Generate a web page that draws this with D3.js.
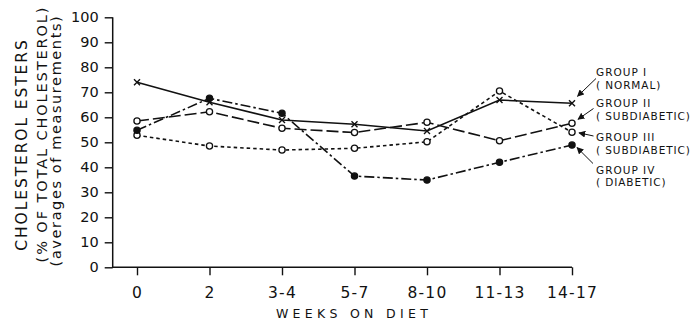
<!DOCTYPE html>
<html>
<head>
<meta charset="utf-8">
<script src="https://cdn.jsdelivr.net/npm/d3@7/dist/d3.min.js"></script>
<style>
  html, body { margin: 0; padding: 0; background: #fff; }
  svg { display: block; }
  text { font-family: "DejaVu Sans", sans-serif; fill: #111; }
</style>
</head>
<body>
<svg id="chart" width="692" height="323"></svg>
<script>
// Weeks on diet (category labels on the x axis)
const weeks = ["0", "2", "3-4", "5-7", "8-10", "11-13", "14-17"];
const yTicks = [0, 10, 20, 30, 40, 50, 60, 70, 80, 90, 100];

// Cholesterol esters, % of total cholesterol (averages of measurements)
const group1 = [74, 66, 58.9, 57.2, 54.5, 66.9, 65.6];   // normal
const group2 = [58.5, 62.2, 55.6, 53.9, 58, 50.6, 57.6]; // subdiabetic
const group3 = [52.8, 48.5, 46.9, 47.6, 50.2, 70.5, 54]; // subdiabetic
const group4 = [54.8, 67.6, 61.6, 36.5, 34.9, 42, 48.9];  // diabetic

const groupNames = ["GROUP I", "GROUP II", "GROUP III", "GROUP IV"];
const groupNotes = ["( NORMAL)", "( SUBDIABETIC)", "( SUBDIABETIC)", "( DIABETIC)"];

const ink = "#111";
const svg = d3.select("#chart");

const x = d3.scalePoint().domain(weeks).range([137, 572]);
const y = d3.scaleLinear().domain([0, 100]).range([267.3, 17.3]);
const axisX = 112.7;

// y axis
const gy = svg.append("g").attr("transform", `translate(${axisX},0)`)
  .call(d3.axisLeft(y).tickValues(yTicks).tickSize(8).tickSizeOuter(0).tickPadding(6));
gy.select(".domain").remove();
gy.selectAll(".tick line").attr("stroke", ink).attr("stroke-width", 1.4);
gy.selectAll(".tick text").attr("font-size", 14.5).attr("fill", ink)
  .style("font-family", "DejaVu Sans, sans-serif");
svg.append("line").attr("x1", axisX).attr("x2", axisX)
  .attr("y1", y(100)).attr("y2", y(0) + 0.7)
  .attr("stroke", ink).attr("stroke-width", 1.5);

// x axis
const gx = svg.append("g").attr("transform", `translate(0,${y(0)})`)
  .call(d3.axisBottom(x).tickSize(8).tickSizeOuter(0).tickPadding(11.5));
gx.select(".domain").remove();
gx.selectAll(".tick line").attr("stroke", ink).attr("stroke-width", 1.4);
gx.selectAll(".tick text").attr("font-size", 15.5).attr("letter-spacing", 1.2)
  .attr("fill", ink).style("font-family", "DejaVu Sans, sans-serif");
svg.append("line").attr("x1", axisX).attr("x2", x(weeks[weeks.length - 1]))
  .attr("y1", y(0)).attr("y2", y(0))
  .attr("stroke", ink).attr("stroke-width", 1.5);

// axis titles
svg.append("text").attr("x", 354).attr("y", 317.5).attr("text-anchor", "middle")
  .attr("font-size", 12.5).attr("letter-spacing", 4.3).text("WEEKS ON DIET");

const yTitles = [
  { t: "CHOLESTEROL ESTERS", bx: 26.7, cy: 144.5, fs: 15.5, ls: 1.9 },
  { t: "(% OF TOTAL CHOLESTEROL)", bx: 46.5, cy: 134, fs: 14.5, ls: 1.9 },
  { t: "(averages of measurements)", bx: 60.5, cy: 140.5, fs: 14.5, ls: 1.6 }
];
svg.selectAll("text.ytitle").data(yTitles).join("text")
  .attr("class", "ytitle")
  .attr("transform", d => `translate(${d.bx},${d.cy}) rotate(-90)`)
  .attr("text-anchor", "middle")
  .attr("font-size", d => d.fs)
  .attr("letter-spacing", d => d.ls)
  .text(d => d.t);

// series
const series = [
  { values: group1, dash: null, marker: "x" },
  { values: group2, dash: "12,4", marker: "open" },
  { values: group3, dash: "3.5,3", marker: "open" },
  { values: group4, dash: "10,3,2.5,3", marker: "filled" }
];

const line = d3.line().x((d, i) => x(weeks[i])).y(d => y(d));

series.forEach(s => {
  svg.append("path").datum(s.values)
    .attr("d", line)
    .attr("fill", "none")
    .attr("stroke", ink)
    .attr("stroke-width", 1.6)
    .attr("stroke-dasharray", s.dash);
});

series.forEach(s => {
  const g = svg.append("g");
  s.values.forEach((v, i) => {
    const cx = x(weeks[i]), cy = y(v);
    if (s.marker === "x") {
      const r = 3;
      g.append("path")
        .attr("d", `M${cx - r},${cy - r}L${cx + r},${cy + r}M${cx - r},${cy + r}L${cx + r},${cy - r}`)
        .attr("stroke", ink).attr("stroke-width", 1.4);
    } else {
      g.append("circle").attr("cx", cx).attr("cy", cy).attr("r", 3.1)
        .attr("fill", s.marker === "filled" ? ink : "#fff")
        .attr("stroke", ink).attr("stroke-width", 1.3);
    }
  });
});

// legend labels with pointer arrows to the last week's markers
const legendTop = [76.4, 107, 141, 173.7];
const legendX = 596;
groupNames.forEach((name, i) => {
  svg.append("text").attr("x", legendX).attr("y", legendTop[i])
    .attr("font-size", 10.5).attr("letter-spacing", 1).text(name);
  svg.append("text").attr("x", legendX).attr("y", legendTop[i] + 12.7)
    .attr("font-size", 10.5).attr("letter-spacing", 0.9).text(groupNotes[i]);
});

svg.append("defs").append("marker")
  .attr("id", "head").attr("viewBox", "0 0 10 10")
  .attr("refX", 9).attr("refY", 5)
  .attr("markerWidth", 7).attr("markerHeight", 7)
  .attr("markerUnits", "userSpaceOnUse")
  .attr("orient", "auto")
  .append("path").attr("d", "M0,0L10,5L0,10z").attr("fill", ink);

const lastX = x(weeks[weeks.length - 1]);
const pointers = [
  { v: group1[6], sx: 596, sy: 78.5, dx: 5.5, dy: -7 },
  { v: group2[6], sx: 593.5, sy: 108.5, dx: 6, dy: -4 },
  { v: group3[6], sx: 593.5, sy: 136, dx: 7, dy: 0.5 },
  { v: group4[6], sx: 593, sy: 163.5, dx: 5, dy: 2.5 }
];
pointers.forEach(p => {
  svg.append("line")
    .attr("x1", p.sx).attr("y1", p.sy)
    .attr("x2", lastX + p.dx).attr("y2", y(p.v) + p.dy)
    .attr("stroke", ink).attr("stroke-width", 1)
    .attr("marker-end", "url(#head)");
});
</script>
</body>
</html>
